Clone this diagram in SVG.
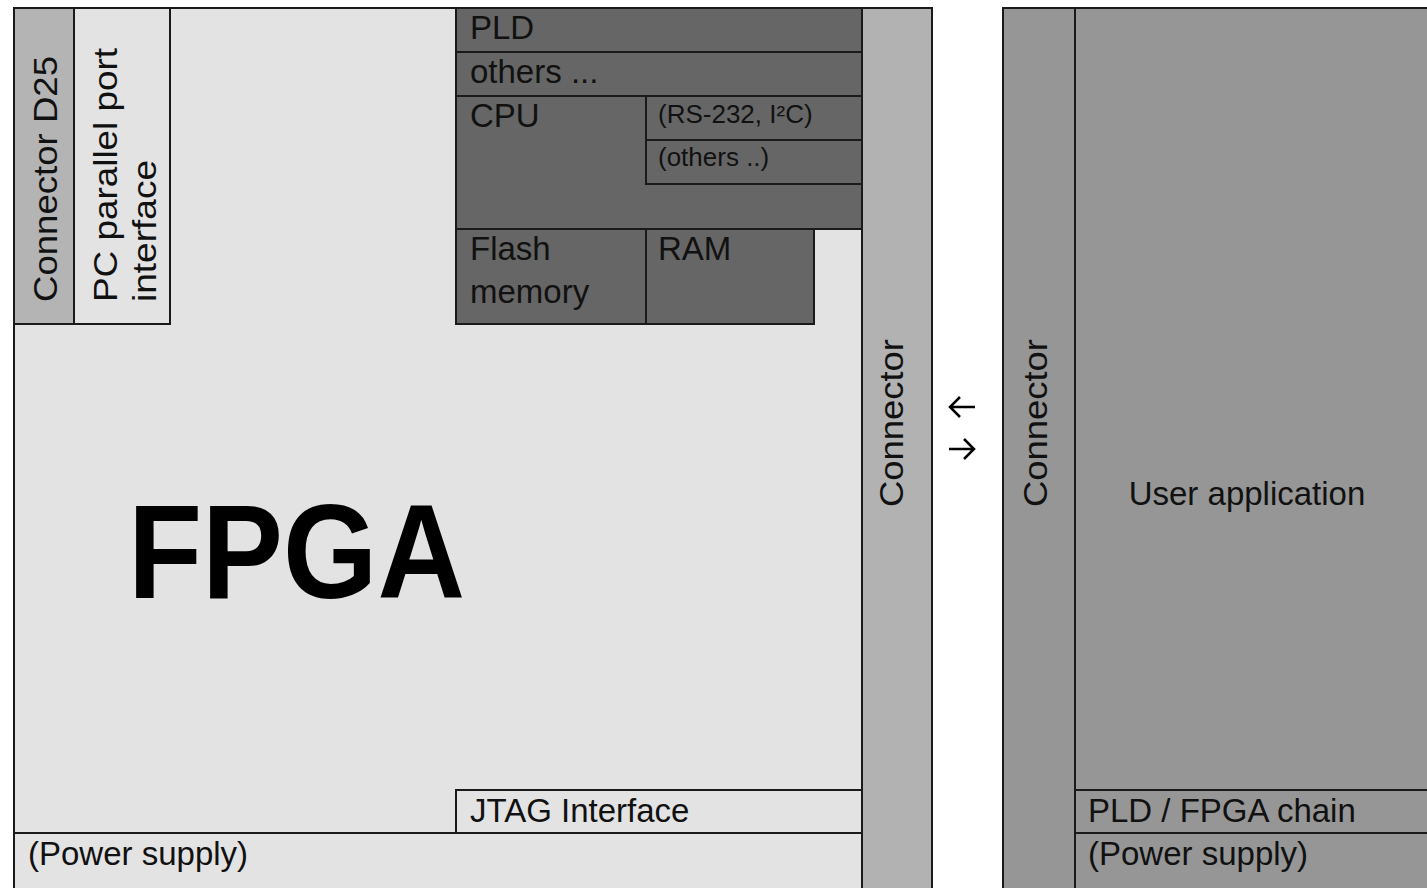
<svg xmlns="http://www.w3.org/2000/svg" width="1427" height="888" viewBox="0 0 1427 888">
<style>
  .b { stroke: #1a1a1a; stroke-width: 2; }
  .light { fill: #e3e3e3; }
  .mid { fill: #b2b2b2; }
  .dark { fill: #666666; }
  .right { fill: #969696; }
  text { font-family: "Liberation Sans", Arial, sans-serif; fill: #111; }
  .t { font-size: 33px; }
  .v { font-size: 34px; }
  .s { font-size: 26px; }
  .big { font-size: 133px; font-weight: bold; fill: #000; }
  .arrow { fill: none; stroke: #000; stroke-width: 2.5; }
</style>
<rect x="0" y="0" width="1427" height="888" fill="#ffffff"/>

<g id="fpga-board">
  <rect class="b light" x="14" y="8" width="848" height="890"/>
  <text class="big" x="128" y="598" textLength="337" lengthAdjust="spacingAndGlyphs">FPGA</text>
</g>
<g id="connector-left">
  <rect class="b mid" x="862" y="8" width="70" height="890"/>
  <text class="v" transform="translate(903,507) rotate(-90)" textLength="168" lengthAdjust="spacingAndGlyphs">Connector</text>
</g>
<g id="connector-d25">
  <rect class="b" fill="#b4b4b4" x="14" y="8" width="60" height="316"/>
  <text class="v" transform="translate(57,302) rotate(-90)" textLength="246" lengthAdjust="spacingAndGlyphs">Connector D25</text>
</g>
<g id="pc-parallel">
  <rect class="b light" x="74" y="8" width="96" height="316"/>
  <text class="v" transform="translate(117,302) rotate(-90)" textLength="254" lengthAdjust="spacingAndGlyphs">PC parallel port</text>
  <text class="v" transform="translate(156,302) rotate(-90)" textLength="142" lengthAdjust="spacingAndGlyphs">interface</text>
</g>
<g id="pld">
  <rect class="b dark" x="456" y="8" width="406" height="44"/>
  <text class="t" x="470" y="39">PLD</text>
</g>
<g id="others">
  <rect class="b dark" x="456" y="52" width="406" height="44"/>
  <text class="t" x="470" y="83">others ...</text>
</g>
<g id="cpu">
  <rect class="b dark" x="456" y="96" width="406" height="133"/>
  <text class="t" x="470" y="127">CPU</text>
</g>
<g id="rs232">
  <rect class="b dark" x="646" y="96" width="216" height="44"/>
  <text class="s" x="658" y="123">(RS-232, I²C)</text>
</g>
<g id="others-io">
  <rect class="b dark" x="646" y="140" width="216" height="44"/>
  <text class="s" x="658" y="166">(others ..)</text>
</g>
<g id="flash">
  <rect class="b dark" x="456" y="229" width="190" height="95"/>
  <text class="t" x="470" y="260">Flash</text>
  <text class="t" x="470" y="303">memory</text>
</g>
<g id="ram">
  <rect class="b dark" x="646" y="229" width="168" height="95"/>
  <text class="t" x="658" y="260">RAM</text>
</g>
<g id="jtag">
  <rect class="b light" x="456" y="790" width="406" height="43"/>
  <text class="t" x="470" y="822">JTAG Interface</text>
</g>
<g id="power-left">
  <rect class="b light" x="14" y="833" width="848" height="65"/>
  <text class="t" x="28" y="865">(Power supply)</text>
</g>

<g id="connector-right">
  <rect class="b right" x="1003" y="8" width="72" height="890"/>
  <text class="v" transform="translate(1047,507) rotate(-90)" textLength="168" lengthAdjust="spacingAndGlyphs">Connector</text>
</g>
<g id="user-app">
  <rect class="b right" x="1075" y="8" width="370" height="890"/>
  <text class="t" x="1247" y="505" text-anchor="middle">User application</text>
</g>
<g id="pld-chain">
  <rect class="b right" x="1075" y="790" width="370" height="43"/>
  <text class="t" x="1088" y="822">PLD / FPGA chain</text>
</g>
<g id="power-right">
  <rect class="b right" x="1075" y="833" width="370" height="65"/>
  <text class="t" x="1088" y="865">(Power supply)</text>
</g>

<g id="connectors">
  <path class="arrow" d="M975,407 H950 M960,397 L950,407 L960,417"/>
  <path class="arrow" d="M949,449 H974 M964,439 L974,449 L964,459"/>
</g>
</svg>
